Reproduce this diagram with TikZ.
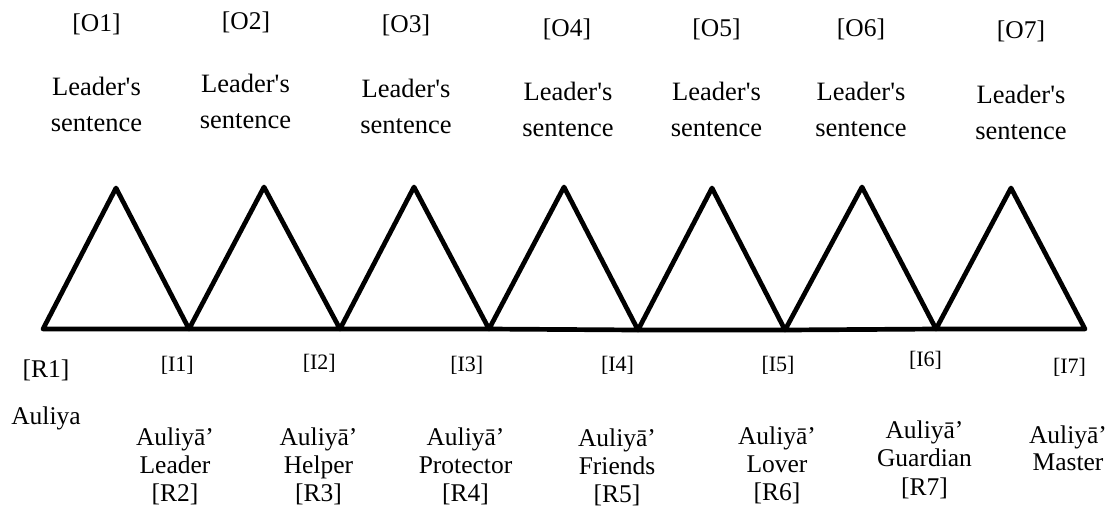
\documentclass[tikz,border=0pt]{standalone}
\usepackage{fontspec}
\newfontfamily\reffont{Liberation Serif}
\begin{document}
\begin{tikzpicture}[x=1pt, y=-1pt,
  txt/.style={inner sep=0pt, anchor=base, font=\reffont\fontsize{25.5}{30}\selectfont},
  toptxt/.style={txt, font=\reffont\fontsize{26.5}{32}\selectfont},
  ilbl/.style={txt, font=\reffont\fontsize{22}{26}\selectfont},
  tri/.style={line width=4.7pt, line join=round, line cap=round}]
\useasboundingbox (0,0) rectangle (1115,507);

% triangle vertices: base points b0..b7, apexes a1..a7
\coordinate (b0) at (43,329);
\coordinate (a1) at (116,188);
\coordinate (b1) at (189,329);
\coordinate (a2) at (264,187);
\coordinate (b2) at (340,329);
\coordinate (a3) at (414,187);
\coordinate (b3) at (489,329);
\coordinate (a4) at (564,187);
\coordinate (b4) at (638,330);
\coordinate (a5) at (712,188);
\coordinate (b5) at (785,330);
\coordinate (a6) at (862,187);
\coordinate (b6) at (936,329);
\coordinate (a7) at (1011,188);
\coordinate (b7) at (1085,329);

\draw[tri] (b0) -- (a1) -- (b1) -- cycle;
\draw[tri] (b1) -- (a2) -- (b2) -- cycle;
\draw[tri] (b2) -- (a3) -- (b3) -- cycle;
\draw[tri] (b3) -- (a4) -- (b4) -- cycle;
\draw[tri] (b4) -- (a5) -- (b5) -- cycle;
\draw[tri] (b5) -- (a6) -- (b6) -- cycle;
\draw[tri] (b6) -- (a7) -- (b7) -- cycle;

% upper labels
\node[txt] (O1) at (96.5,31) {[O1]};
\node[txt] (O2) at (246,29) {[O2]};
\node[txt] (O3) at (406,32) {[O3]};
\node[txt] (O4) at (567,36) {[O4]};
\node[txt] (O5) at (716.5,36) {[O5]};
\node[txt] (O6) at (861,36) {[O6]};
\node[txt] (O7) at (1021,38) {[O7]};

\node[toptxt] (L1) at (96.5,95) {Leader's};
\node[toptxt] (S1) at (96.5,131) {sentence};
\node[toptxt] (L2) at (245.5,92.5) {Leader's};
\node[toptxt] (S2) at (245.5,128.5) {sentence};
\node[toptxt] (L3) at (406,97.5) {Leader's};
\node[toptxt] (S3) at (406,133.5) {sentence};
\node[toptxt] (L4) at (568,100) {Leader's};
\node[toptxt] (S4) at (568,136) {sentence};
\node[toptxt] (L5) at (716.5,100) {Leader's};
\node[toptxt] (S5) at (716.5,136) {sentence};
\node[toptxt] (L6) at (861,100) {Leader's};
\node[toptxt] (S6) at (861,136) {sentence};
\node[toptxt] (L7) at (1021,103) {Leader's};
\node[toptxt] (S7) at (1021,139) {sentence};

% lower labels
\node[txt] (R1) at (46,377) {[R1]};
\node[txt] (W1) at (46,424) {Auliya};

\node[ilbl] (I1) at (177.3,371) {[I1]};
\node[ilbl] (I2) at (319.3,369) {[I2]};
\node[ilbl] (I3) at (466.8,371) {[I3]};
\node[ilbl] (I4) at (617.5,371) {[I4]};
\node[ilbl] (I5) at (778,371) {[I5]};
\node[ilbl] (I6) at (925.5,366) {[I6]};
\node[ilbl] (I7) at (1069.5,373) {[I7]};

\node[txt] (W2) at (175,445) {Auliyā’};
\node[txt] (M2) at (175,473) {Leader};
\node[txt] (R2) at (175,501) {[R2]};

\node[txt] (W3) at (318.5,445) {Auliyā’};
\node[txt] (M3) at (318.5,473) {Helper};
\node[txt] (R3) at (318.5,501) {[R3]};

\node[txt] (W4) at (465.5,445) {Auliyā’};
\node[txt] (M4) at (465.5,473) {Protector};
\node[txt] (R4) at (465.5,501) {[R4]};

\node[txt] (W5) at (617,446) {Auliyā’};
\node[txt] (M5) at (617,474) {Friends};
\node[txt] (R5) at (617,502) {[R5]};

\node[txt] (W6) at (777,444) {Auliyā’};
\node[txt] (M6) at (777,472) {Lover};
\node[txt] (R6) at (777,500) {[R6]};

\node[txt] (W7) at (924.5,438) {Auliyā’};
\node[txt] (M7) at (924.5,466) {Guardian};
\node[txt] (R7) at (924.5,495) {[R7]};

\node[txt] (W8) at (1068,443) {Auliyā’};
\node[txt] (M8) at (1068,470) {Master};
\end{tikzpicture}
\end{document}
